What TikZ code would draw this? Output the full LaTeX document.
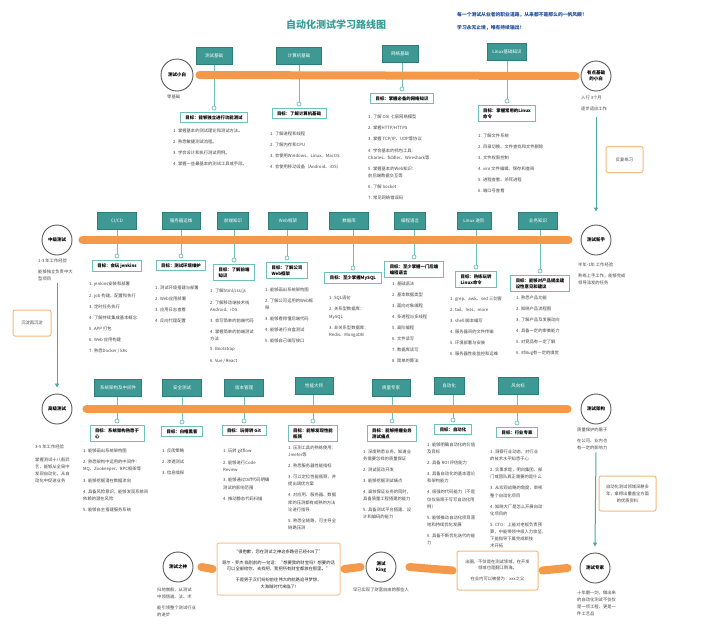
\documentclass[tikz,border=0pt]{standalone}
\usepackage{fontspec}
\setmainfont{Noto Sans CJK SC}
\usetikzlibrary{positioning,arrows.meta}
\definecolor{tealf}{HTML}{3E9994}
\definecolor{teald}{HTML}{2E7D78}
\definecolor{teall}{HTML}{6FC0BA}
\definecolor{tealarr}{HTML}{4AA9A3}
\definecolor{orng}{HTML}{F4994A}
\definecolor{orngl}{HTML}{F7B97C}
\definecolor{txtc}{HTML}{444444}
\definecolor{bluec}{HTML}{1F4E9C}
\definecolor{titlec}{HTML}{3A9E98}
\newcommand{\itemlist}[4]{%
  \foreach \t [count=\i, remember=\i as \j (initially 0)] in {#4} {%
    \ifnum\i=1
      \node[itm, anchor=north west] (#1-\i) at (#2,#3) {\t};
    \else
      \node[itm, below=6.6pt of #1-\j.south west, anchor=north west] (#1-\i) {\t};
    \fi
  }}
\begin{document}
\begin{tikzpicture}[x=1pt,y=-1pt,
  tbox/.style={fill=tealf, draw=teald, line width=0.6pt, text=white,
    font=\fontsize{4.5}{5}\selectfont, minimum height=17.5pt, minimum width=#1, inner sep=1pt},
  goal/.style={draw=teall, line width=1pt, fill=white, font=\fontsize{4.4}{6}\selectfont\bfseries,
    align=left, inner xsep=5pt, inner ysep=3pt, text=black},
  itm/.style={font=\fontsize{4.3}{7.2}\selectfont, text=txtc, align=left, inner sep=0pt},
  stage/.style={circle, draw=black!65, line width=0.9pt, fill=white, minimum size=30pt,
    inner sep=0pt, font=\fontsize{4.5}{6}\selectfont\bfseries, align=center},
  note/.style={font=\fontsize{4.3}{7}\selectfont, text=txtc, align=left, inner sep=0pt},
  obox/.style={draw=orngl, line width=1pt, rounded corners=2pt, fill=white,
    font=\fontsize{4.3}{7}\selectfont, text=txtc, align=center, inner sep=1pt},
  bar/.style={orng, line width=8pt, line cap=round},
  vline/.style={teall, line width=0.9pt},
  mk/.style={circle, draw=teall, fill=white, line width=0.7pt, minimum size=4pt, inner sep=0pt},
  arr/.style={tealarr, line width=1pt, -{Triangle[length=4pt,width=4pt]}}
]
\fill[white] (0,0) rectangle (720,641);
\useasboundingbox (0,0) rectangle (720,641);

% title and slogans
\node[font=\fontsize{10}{12}\selectfont\bfseries, text=titlec] (title) at (336,25) {自动化测试学习路线图};
\node[font=\fontsize{4.8}{6}\selectfont\bfseries, text=bluec, anchor=west, inner sep=0pt] (slogan1) at (457,15) {每一个测试从业者的职业道路，从来都不是那么的一帆风顺！};
\node[font=\fontsize{4.8}{6}\selectfont\bfseries, text=bluec, anchor=west, inner sep=0pt] (slogan2) at (457,28) {学习永无止境，唯有持续输出！};

% ---------- topic boxes ----------
\node[tbox=36] (T1) at (214,56) {测试基础};
\node[tbox=45] (T2) at (299,56) {计算机基础};
\node[tbox=36] (T3) at (400,54) {网络基础};
\node[tbox=39] (T4) at (507,52) {Linux基础知识};

\node[tbox=39] (T5) at (117,221) {CI/CD};
\node[tbox=38] (T6) at (181,221) {服务器运维};
\node[tbox=31] (T7) at (233,221) {前端知识};
\node[tbox=39] (T8) at (288,221) {Web框架};
\node[tbox=39] (T9) at (349,221) {数据库};
\node[tbox=31] (T10) at (410,221) {编程语言};
\node[tbox=34] (T11) at (474,221) {Linux 进阶};
\node[tbox=39] (T12) at (538,221) {业务知识};

\node[tbox=47] (T13) at (118,388) {系统架构及中间件};
\node[tbox=39] (T14) at (182,388) {安全测试};
\node[tbox=39] (T15) at (244,388) {版本管理};
\node[tbox=38] (T16) at (314,386) {性能大师};
\node[tbox=38] (T17) at (391,388) {质量专家};
\node[tbox=30] (T18) at (449,386) {自动化};
\node[tbox=40] (T19) at (518,386) {风向标};

% ---------- markers ----------
\node[mk] (M1) at (214,108) {};
\node[mk] (M2) at (299,104) {};
\node[mk] (M3) at (402,89) {};
\node[mk] (M4) at (507,101) {};
\node[mk] (M5) at (117,256) {};
\node[mk] (M6) at (181,256) {};
\node[mk] (M7) at (234,260) {};
\node[mk] (M8) at (287,258) {};
\node[mk] (M9) at (353,268) {};
\node[mk] (M10) at (414,257) {};
\node[mk] (M11) at (476,267) {};
\node[mk] (M12) at (540,271) {};
\node[mk] (M13) at (117,421) {};
\node[mk] (M14) at (182,422) {};
\node[mk] (M15) at (244,421) {};
\node[mk] (M16) at (313,421) {};
\node[mk] (M17) at (392,421) {};
\node[mk] (M18) at (453,420) {};
\node[mk] (M19) at (517,423) {};

% ---------- goal boxes ----------
\node[goal, anchor=north] (G1) at ([yshift=-1.5pt]M1.south) {目标：能够独立进行功能测试};
\node[goal, anchor=north] (G2) at ([yshift=-1.5pt]M2.south) {目标：了解计算机基础};
\node[goal, anchor=north] (G3) at ([yshift=-1.5pt]M3.south) {目标：掌握必备的网络知识};
\node[goal, anchor=north] (G4) at ([yshift=-1.5pt]M4.south) {目标：掌握常用的Linux\\命令};
\node[goal, anchor=north] (G5) at ([yshift=-1.5pt]M5.south) {目标：会玩 jenkins};
\node[goal, anchor=north] (G6) at ([yshift=-1.5pt]M6.south) {目标：测试环境维护};
\node[goal, anchor=north] (G7) at ([yshift=-1.5pt]M7.south) {目标：了解前端\\知识};
\node[goal, anchor=north] (G8) at ([yshift=-1.5pt]M8.south) {目标：了解公司\\Web框架};
\node[goal, anchor=north] (G9) at ([yshift=-1.5pt]M9.south) {目标：至少掌握MySQL};
\node[goal, anchor=north] (G10) at ([yshift=-1.5pt]M10.south) {目标：至少掌握一门后端\\编程语言};
\node[goal, anchor=north] (G11) at ([yshift=-1.5pt]M11.south) {目标：熟练玩转\\Linux命令};
\node[goal, anchor=north] (G12) at ([yshift=-1.5pt]M12.south) {目标：能够对产品提出建\\设性意见和建议};
\node[goal, anchor=north] (G13) at ([yshift=-1.5pt]M13.south) {目标：系统架构熟悉于\\心};
\node[goal, anchor=north] (G14) at ([yshift=-1.5pt]M14.south) {目标：白帽黑客};
\node[goal, anchor=north] (G15) at ([yshift=-1.5pt]M15.south) {目标：玩得转 Git};
\node[goal, anchor=north] (G16) at ([yshift=-1.5pt]M16.south) {目标：能够发现性能\\瓶颈};
\node[goal, anchor=north] (G17) at ([yshift=-1.5pt]M17.south) {目标：能够把握业务\\测试痛点};
\node[goal, anchor=north] (G18) at ([yshift=-1.5pt]M18.south) {目标：自动化};
\node[goal, anchor=north] (G19) at ([yshift=-1.5pt]M19.south) {目标：行业专家};

% ---------- connector lines ----------
\foreach \k in {1,...,19} {
  \draw[vline] (M\k.north) -- (M\k.north |- T\k.south);
}

% ---------- stage circles ----------
\node[stage, minimum size=32pt] (S1) at (177,75) {测试小白};
\node[stage] (S2) at (596,76) {有点基础\\的小白};
\node[stage] (S3) at (596,240) {测试新手};
\node[stage] (S4) at (57,240) {中级测试};
\node[stage] (S5) at (57,409) {高级测试};
\node[stage] (S6) at (596,409) {测试架构};
\node[stage] (S7) at (595,568) {测试专家};
\node[stage] (S8) at (381,567) {测试\\King};
\node[stage] (S9) at (178,567) {测试之神};

% ---------- row 4 boxes ----------
\node[obox, minimum width=123pt, minimum height=52pt, draw=orngl!85, font=\fontsize{4.3}{6.2}\selectfont, text=black!85] (Q) at (278.5,569)
  {“很抱歉，您在测试之神这条路径已经404了”\\[5pt]
   哥尔·罗杰 临别前的一句话：“想要我的财宝吗？想要的话\\可以全部给你，去找吧，我把所有财宝都放在那里。”\\[5pt]
   于是男子汉们纷纷前往伟大的航路追寻梦想，\\大海贼时代来临了!};
\node[obox, minimum width=81pt, minimum height=39pt, font=\fontsize{4.3}{6.2}\selectfont] (R) at (497.5,570.5)
  {出圈，不仅是在测试领域，在开发\\领域也是翻江倒海。\\[5pt]在业内可以被誉为：xxx之父};

% ---------- bars ----------
\draw[bar] ([xshift=6pt]S1.east) -- ([xshift=-5pt]S2.west);
\draw[bar] ([xshift=-12pt]S3.west) -- ([xshift=10pt]S4.east);
\draw[bar] ([xshift=14pt]S5.east) -- ([xshift=-13pt]S6.west);
\draw[bar] ([xshift=8pt]S9.east) -- ([xshift=-4pt]Q.west);
\draw[bar] ([xshift=4pt]Q.east) -- ([xshift=-5pt]S8.west);
\draw[bar] ([xshift=13pt]S8.east) -- ([xshift=-4pt]R.west);
\draw[bar] ([xshift=4pt]R.east) -- ([xshift=-12pt]S7.west);

% ---------- arrows ----------
\draw[arr] ([yshift=-26pt]S2.south) -- ([yshift=13pt]S3.north);
\draw[arr] ([yshift=-28pt]S4.south) -- ([yshift=6pt]S5.north);
\draw[arr] ([yshift=-28pt]S6.south) -- ([yshift=6pt]S7.north);

% ---------- side boxes ----------
\node[obox, minimum width=37pt, minimum height=26pt] (B1) at (624.5,159.5) {反复练习};
\node[obox, minimum width=38pt, minimum height=26pt] (B2) at (32,323) {沉淀再沉淀};
\node[obox, minimum width=57pt, minimum height=35pt] (B3) at (627.5,493.5) {自动化测试领域深耕多\\年，拿得出覆盖全方面\\的优质资料};

% ---------- stage notes ----------
\node[note, anchor=west] (n1) at (167,97) {零基础};
\node[note, anchor=west] (n2) at (581,98) {入行 3个月};
\node[note, anchor=west] (n3) at (581,109) {逐步适应工作};
\node[note, anchor=west] (n4) at (578,265) {半年-1年 工作经验};
\node[note, anchor=north west] (n5) at (578,273.6) {熟练上手工作，能够完成\\领导派发的任务};
\node[note, anchor=west] (n6) at (38,261) {1-3 年工作经验};
\node[note, anchor=north west] (n7) at (38,269.6) {能够独立负责中大\\型项目};
\node[note, anchor=west] (n8) at (35,447) {3-5 年工作经验};
\node[note, anchor=north west] (n9) at (35,457.6) {掌握测试十八般武\\艺，能够从全局中\\发现自动化，从自\\动化中促进业务};
\node[note, anchor=west] (n10) at (577,430) {质量保护的盾子};
\node[note, anchor=north west] (n11) at (577,438.6) {在公司、业内也\\有一定的影响力};
\node[note, anchor=north west] (n12) at (577,590.6) {十年磨一剑，做出来\\的自动化测试不仅仅\\是一项工程，更是一\\件工艺品};
\node[note, anchor=north west] (n13) at (157,587.6) {扫地僧般，从测试\\中领悟道、法、术};
\node[note, anchor=north west] (n14) at (157,605.6) {能引领整个测试行业\\的进步};
\node[note] (n15) at (381,590) {早已实现了财富自由的那些人};

% ---------- item lists ----------
\itemlist{La}{173}{128.6}{{1. 掌握基本的测试理论和测试方法。},{2. 熟悉敏捷测试流程。},{3. 学会设计和执行测试用例。},{4. 掌握一些最基本的测试工具或手段。}}
\itemlist{Lb}{270}{131.6}{{1. 了解进程和线程},{2. 了解内存和CPU},{3. 会使用Windows、Linux、MacOS},{4. 会使用移动设备（Android、iOS）}}
\itemlist{Lc}{368}{114.6}{{1. 了解 OSI 七层网络模型},{2. 掌握HTTP/HTTPS},{3. 掌握 TCP/IP、UDP等协议},{4. 学会基本的抓包工具：\\Charles、fiddler、Wireshark等},{5. 掌握基本的Web知识：\\前后端数据交互等},{6. 了解 Socket},{7. 常见网络错误码}}
\itemlist{Ld}{478}{133.6}{{1. 了解文件系统},{2. 目录切换、文件查找和文件删除},{3. 文件权限控制},{4. vim 文件编辑，保存和查阅},{5. 进程查看、杀死进程},{6. 端口号查看}}
\itemlist{Le}{89}{281.6}{{1. jenkins安装和部署},{2. job 构建、配置和执行},{3. 定时任务执行},{4. 了解持续集成基本概念},{5. APP 打包},{6. Web 应用构建},{7. 熟悉Docker / k8s}}
\itemlist{Lf}{155}{285.6}{{1. 测试环境搭建与部署},{2. Web应用部署},{3. 应用日志查看},{4. 反向代理配置}}
\itemlist{Lg}{210}{288.6}{{1. 了解html/css/js},{2. 了解移动端技术栈\\Android、iOS},{3. 会写简单的前端代码},{4. 掌握简单的前端测试\\方法},{5. Bootstrap},{6. Vue / React}}
\itemlist{Lh}{265}{287.6}{{1. 能够画出系统架构图},{2. 了解公司运用的Web框\\架},{3. 能够看得懂后端代码},{4. 能够进行白盒测试},{5. 能够自己编写接口}}
\itemlist{Li}{329}{295.6}{{1. SQL语句},{2. 关系型数据库：\\MySQL},{3. 非关系型数据库：\\Redis、MongoDB}}
\itemlist{Lj}{392}{281.6}{{1. 基础语法},{2. 基本数据类型},{3. 面向对象编程},{4. 多进程与多线程},{5. 高阶编程},{6. 文件读写},{7. 数据库读写},{8. 简单的算法}}
\itemlist{Lk}{450}{296.6}{{1. grep、awk、sed 三剑客},{2. tail、less、more},{3. shell 脚本编写},{4. 服务器间的文件传输},{5. 环境部署与安装},{6. 服务器性能监控和运维}}
\itemlist{Ll}{516}{295.6}{{1. 熟悉产品功能},{2. 知晓产品流程图},{3. 了解产品及发展动向},{4. 具备一定的审美能力},{5. 对竞品有一定了解},{6. 对Bug有一定的嗅觉}}
\itemlist{Lm}{83}{448.6}{{1. 能够画出系统架构图},{2. 熟悉架构中运用的中间件：\\MQ、Zookeeper、RPC框架等},{3. 能够挖掘潜在数据流向},{4. 具备风险意识，能够发现系统间\\依赖的潜在风险},{5. 能够自主搭建服务系统}}
\itemlist{Ln}{162}{448.6}{{1. 反爬策略},{2. 渗透测试},{3. 信息嗅探}}
\itemlist{Lo}{223}{448.6}{{1. 玩转 gitflow},{2. 能够进行Code\\Review},{3. 能够通过Diff代码明确\\测试的影响范围},{4. 推动静态代码扫描}}
\itemlist{Lp}{288}{445.6}{{1. 压测工具的熟练使用：\\Jmeter等},{2. 熟悉服务器性能指标},{3. 可以定位性能瓶颈，并\\提出调优方案},{4. 对应用、服务器、数据\\库的压测都有成熟的方法\\论进行指导},{5. 熟悉全链路，可主导全\\链路压测}}
\itemlist{Lq}{363}{449.6}{{1. 深度熟悉业务，知道业\\务需要怎样的质量保证},{2. 测试驱动开发},{3. 能够挖掘测试痛点},{4. 高效保证业务的同时，\\具备质量工程搭建的能力},{5. 具备测试平台搭建、设\\计和编码的能力}}
\itemlist{Lr}{427}{442.6}{{1. 能够明确自动化的价值\\及目标},{2. 具备 ROI 评估能力},{3. 具备自动化的基本理论\\和架构能力},{4. 极强的代码能力（不是\\仅仅局限于写写自动化用\\例）},{5. 能够推动自动化项目落\\地和持续优化发展},{6. 具备不断优化迭代的能\\力}}
\itemlist{Ls}{490}{449.6}{{1. 洞察行业动态，对行业\\的技术水平知悉于心},{2. 实事求是，明白集团、部\\门或团队真正需要的是什么},{3. 从宏观战略的角度，审视\\整个自动化项目},{4. 知晓大厂是怎么开展自动\\化项目的},{5. CTO：上能对老板负责预\\算，中能带领中级人力攻坚，\\下能指导下属完成新技\\术开拓}}
\end{tikzpicture}
\end{document}
